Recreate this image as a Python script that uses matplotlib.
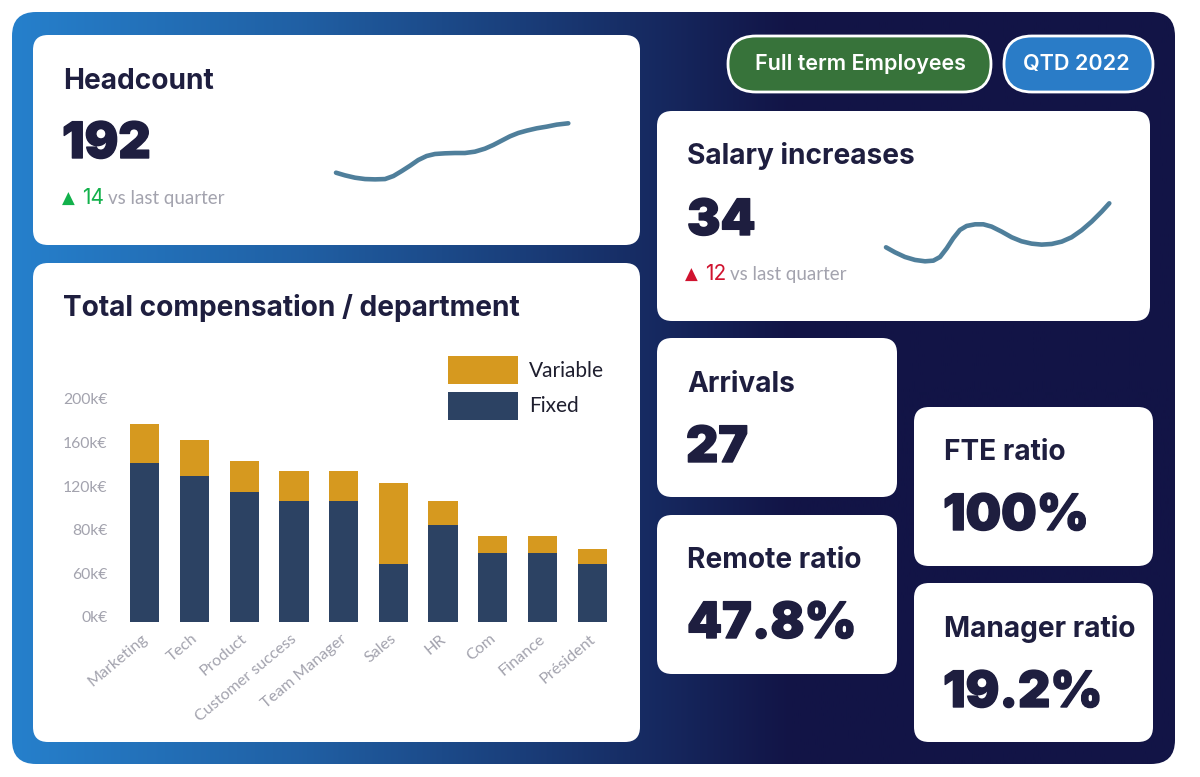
"""Recreate the HR dashboard: gradient panel, KPI cards, sparklines and a stacked bar chart."""

import matplotlib

matplotlib.use("Agg")

import matplotlib.patheffects as pe
import matplotlib.pyplot as plt
import numpy as np
from matplotlib.patches import FancyBboxPatch
from matplotlib.transforms import ScaledTranslation

WIDTH, HEIGHT = 1200, 777

departments = ["Marketing", "Tech", "Product", "Customer success", "Team Manager",
               "Sales", "HR", "Com", "Finance", "Président"]
fixed_pay = [145.6, 133.7, 118.8, 111.1, 111.1, 53.4, 88.9, 63.2, 63.2, 53.4]
variable_pay = [35.8, 33.3, 28.6, 27.5, 27.5, 74.0, 21.5, 15.8, 15.8, 13.5]
y_ticks = [0, 40, 80, 120, 160, 200]
y_tick_labels = ["0k€", "60k€", "80k€", "120k€", "160k€", "200k€"]

# % of the quarter elapsed, and the KPI value at that moment
headcount_x = [0, 3.9, 8.2, 12.5, 16.8, 21.1, 24.7, 28.3, 31.9, 35.4, 39.0, 42.6, 46.9, 51.2,
               55.5, 59.8, 64.1, 67.7, 71.3, 74.9, 78.5, 82.1, 86.4, 90.7, 95.0, 100]
headcount_y = [178, 177.24, 176.58, 176.2, 176.11, 176.2, 177.05, 178.47, 179.99, 181.59,
               182.73, 183.3, 183.49, 183.58, 183.58, 183.96, 184.81, 185.85, 187.08, 188.31,
               189.26, 189.92, 190.58, 191.05, 191.62, 192]
salary_x = [0, 4.0, 8.5, 13, 17.5, 21.2, 24.2, 27.2, 30.1, 33.1, 36.1, 39.9, 43.6, 47.3, 51.8,
            56.3, 60.7, 65.2, 69.7, 74.2, 78.7, 83.1, 87.6, 92.1, 96.6, 100]
salary_y = [22, 20.64, 19.36, 18.55, 18.18, 18.36, 19.36, 21.73, 24.45, 26.73, 27.82, 28.27,
            28.27, 27.64, 26.27, 24.73, 23.64, 23, 22.73, 22.91, 23.55, 24.73, 26.64, 29,
            31.73, 34]

NAVY = "#1E1E3F"
GREY = "#A3A3AE"
BAR_FIXED = "#2C4263"
BAR_VARIABLE = "#D6991F"
SPARK = "#4F7F9B"
TITLE_FONT = ["Inter", "DejaVu Sans"]

plt.rcParams["font.family"] = ["Lato", "DejaVu Sans"]

fig = plt.figure(figsize=(WIDTH / 100, HEIGHT / 100), dpi=100, facecolor="white")


def px_axes(left, top, right, bottom):
    return fig.add_axes([left / WIDTH, 1 - bottom / HEIGHT,
                         (right - left) / WIDTH, (bottom - top) / HEIGHT])


def rounded(ax, left, top, right, bottom, radius, color, edge="none", lw=0, zorder=2):
    patch = FancyBboxPatch((left + radius, top + radius), right - left - 2 * radius,
                           bottom - top - 2 * radius,
                           boxstyle=f"round,pad={radius},rounding_size={radius}",
                           facecolor=color, edgecolor=edge, linewidth=lw, zorder=zorder)
    ax.add_patch(patch)
    return patch


bg = fig.add_axes([0, 0, 1, 1])
bg.set_xlim(0, WIDTH)
bg.set_ylim(HEIGHT, 0)
bg.axis("off")

# panel gradient, blue on the left fading to navy
ramp = np.interp(np.linspace(0, 1, 600), [0, 0.25, 0.55, 0.67, 1], [0, 0.3, 0.8, 1, 1])
blue = np.array([38, 128, 204]) / 255
dark = np.array([18, 20, 70]) / 255
grad = np.array([blue + (dark - blue) * t for t in ramp])[np.newaxis, :, :]
img = bg.imshow(grad, extent=(12, 1175, 764, 12), aspect="auto", zorder=1)
panel = rounded(bg, 12, 12, 1175, 764, 24, "none", zorder=0)
img.set_clip_path(panel)
bg.set_xlim(0, WIDTH)
bg.set_ylim(HEIGHT, 0)

cards = [(33, 35, 640, 245), (33, 263, 640, 742), (657, 111, 1150, 321), (657, 338, 897, 497),
         (657, 515, 897, 674), (914, 407, 1153, 566), (914, 583, 1153, 742)]
for left, top, right, bottom in cards:
    rounded(bg, left, top, right, bottom, 15, "white")

rounded(bg, 728, 36, 991, 92, 28, "#37733A", "white", 2)
rounded(bg, 1004, 36, 1153, 92, 28, "#2A7CC7", "white", 2)
bg.text(860, 64, "Full term Employees", color="white", fontsize=15.5, fontweight="semibold",
        family=TITLE_FONT, ha="center", va="center", zorder=3)
bg.text(1076, 64, "QTD 2022", color="white", fontsize=15.5, fontweight="semibold",
        family=TITLE_FONT, ha="center", va="center", zorder=3)

titles = [("Headcount", 63, 89), ("Total compensation / department", 63, 316),
          ("Salary increases", 687, 164), ("Arrivals", 687, 392), ("Remote ratio", 687, 568),
          ("FTE ratio", 944, 460), ("Manager ratio", 944, 637)]
for label, x, y in titles:
    bg.text(x, y, label, color=NAVY, fontsize=20.2, fontweight="bold", family=TITLE_FONT,
            va="baseline", zorder=3)

numbers = [("192", 62, 158), ("34", 687, 235), ("27", 686, 462), ("47.8%", 687, 638),
           ("100%", 943, 530), ("19.2%", 943, 707)]
for label, x, y in numbers:
    bg.text(x, y, label, color=NAVY, fontsize=36, fontweight="black", family=TITLE_FONT,
            va="baseline", zorder=3,
            path_effects=[pe.withStroke(linewidth=1, foreground=NAVY)])

deltas = [("14", 62, 82, 204, "#12B14B", 108), ("12", 685, 705, 280, "#D0132F", 730)]
for label, x_arrow, x_num, y, color, x_rest in deltas:
    bg.text(x_arrow, y, "▲", color=color, fontsize=12, family=["DejaVu Sans"], va="baseline", zorder=3)
    bg.text(x_num, y, label, color=color, fontsize=15, family=TITLE_FONT, va="baseline", zorder=3)
    bg.text(x_rest, y, "vs last quarter", color=GREY, fontsize=13.5, va="baseline", zorder=3)

# sparklines
for xs, ys, (left, top, right, bottom), lims in [
    (headcount_x, headcount_y, (336, 123.3, 568.3, 172.7), (178, 192)),
    (salary_x, salary_y, (886, 203.3, 1109.3, 247.3), (22, 34)),
]:
    spark = px_axes(left, top, right, bottom)
    spark.plot(xs, ys, color=SPARK, lw=3.3, solid_capstyle="round",
               solid_joinstyle="round", clip_on=False)
    spark.set_xlim(0, 100)
    spark.set_ylim(*lims)
    spark.axis("off")

# stacked bars
ax = px_axes(120, 403.7, 617, 622)
ax.patch.set_alpha(0)
x = np.arange(len(departments))
ax.bar(x, fixed_pay, width=0.586, color=BAR_FIXED, label="Fixed")
ax.bar(x, variable_pay, width=0.586, bottom=fixed_pay, color=BAR_VARIABLE, label="Variable")
ax.set_xlim(-0.5, 9.5)
ax.set_ylim(0, 200)
ax.set_yticks(y_ticks, y_tick_labels)
ax.set_xticks(x, departments)
ax.tick_params(axis="y", length=0, pad=9, labelsize=11.3, labelcolor=GREY)
ax.tick_params(axis="x", length=0, pad=7, labelsize=11.6, labelcolor=GREY)
# the y labels sit a little above their gridline position in the reference
lift = ScaledTranslation(0, 3.6 / 72, fig.dpi_scale_trans)
for label in ax.get_yticklabels():
    label.set_transform(label.get_transform() + lift)
nudge = ScaledTranslation(-2.5 / 72, 0, fig.dpi_scale_trans)
for label in ax.get_xticklabels():
    label.set_rotation(40)
    label.set_ha("right")
    label.set_rotation_mode("anchor")
    label.set_transform(label.get_transform() + nudge)
for side in ax.spines.values():
    side.set_visible(False)

handles, labels = ax.get_legend_handles_labels()
ax.legend(handles[::-1], labels[::-1], loc="upper left",
          bbox_to_anchor=(448 / WIDTH, 1 - 356 / HEIGHT), bbox_transform=fig.transFigure,
          frameon=False, fontsize=15, borderpad=0, borderaxespad=0, handlelength=3.36,
          handleheight=1.68, labelspacing=0.38, handletextpad=0.53, labelcolor="#1E1E2E")

fig.savefig("out.png", dpi=100)
